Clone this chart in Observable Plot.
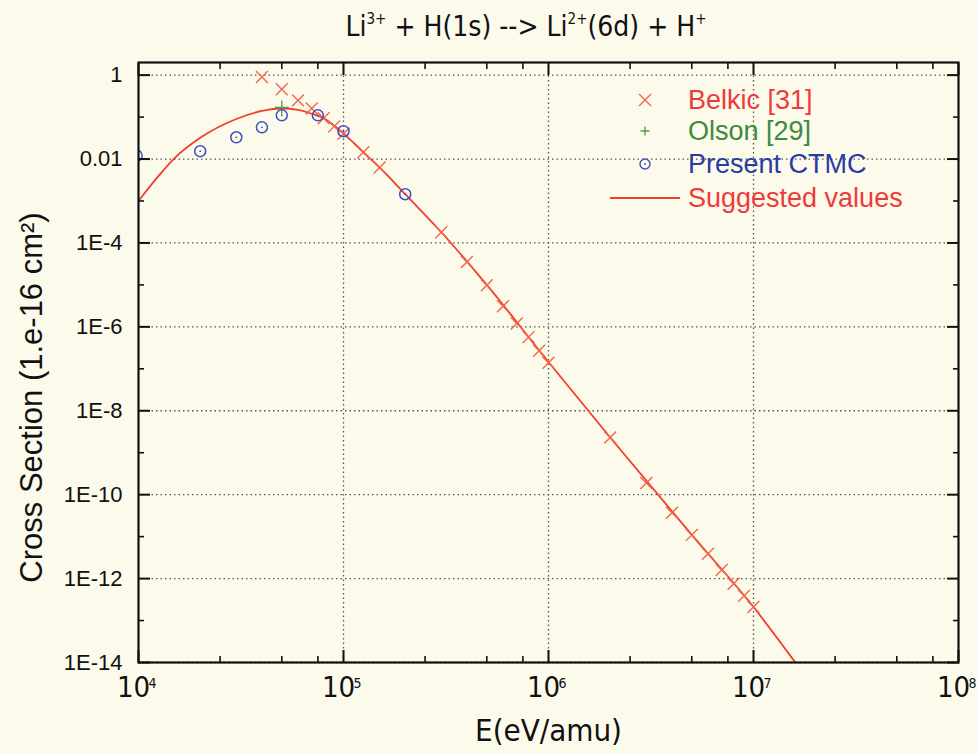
<!DOCTYPE html>
<html><head><meta charset="utf-8">
<script src="https://cdn.jsdelivr.net/npm/d3@7"></script>
<script src="https://cdn.jsdelivr.net/npm/@observablehq/plot@0.6"></script>
<style>
html,body{margin:0;padding:0;background:#fcfaea;}
#wrap{position:relative;width:977px;height:754px;overflow:hidden;background:#fcfaea;}
#title{position:absolute;top:10px;left:526px;transform:translateX(-50%);white-space:nowrap;
  font-family:"Liberation Sans Narrow","Arial Narrow","DejaVu Sans Condensed",sans-serif;font-size:28px;color:#111;}
#title sup{font-size:15px;vertical-align:0;position:relative;top:-12px;}
.lg{position:absolute;left:0;top:0;font-family:"Liberation Sans",Arial,sans-serif;font-size:27px;white-space:nowrap;}
.lg .row{position:absolute;height:30px;line-height:30px;}
</style>
</head><body>
<div id="wrap">
  <div id="title">Li<sup>3+</sup> + H(1s) --&gt; Li<sup>2+</sup>(6d) + H<sup>+</sup></div>
  <div id="chart"></div>
  <div id="legend" class="lg"></div>
</div>
<script>
// ---- data ----
const belkicE = [4e4, 5e4, 6e4, 7e4, 8e4, 9e4, 1e5, 1.25e5, 1.5e5, 3e5, 4e5, 5e5, 6e5, 7e5, 8e5, 9e5, 1e6, 2e6, 3e6, 4e6, 5e6, 6e6, 7e6, 8e6, 9e6, 1e7];
const belkicS = [0.9, 0.46, 0.25, 0.16, 0.094, 0.06, 0.04, 0.0145, 0.0063, 1.8e-4, 3.5e-5, 9.8e-6, 3.1e-6, 1.2e-6, 5.7e-7, 2.7e-7, 1.4e-7, 2.3e-9, 1.9e-10, 3.7e-11, 1.1e-11, 3.9e-12, 1.6e-12, 7.5e-13, 3.9e-13, 2.1e-13];
const olsonE = [5e4];
const olsonS = [0.17];
const ctmcE = [9.8e3, 2e4, 3e4, 4e4, 5e4, 7.5e4, 1e5, 2e5];
const ctmcS = [0.012, 0.0154, 0.033, 0.057, 0.11, 0.11, 0.046, 1.45e-3];
const suggE = [1e4, 1.25e4, 1.5e4, 2e4, 3e4, 4e4, 5e4, 6e4, 7e4, 8e4, 1e5, 1.25e5, 1.5e5, 2e5, 3e5, 5e5, 1e6, 2e6, 5e6, 1e7, 1.6e7];
const suggS = [1.0e-3, 3.9e-3, 0.0105, 0.032, 0.09, 0.14, 0.16, 0.148, 0.12, 0.094, 0.041, 0.0145, 6.3e-3, 1.45e-3, 1.8e-4, 1.0e-5, 1.45e-7, 2.3e-9, 1.1e-11, 2.1e-13, 1.0e-14];

const xDecades = [1e4, 1e5, 1e6, 1e7, 1e8];
const xExponents = ["4", "5", "6", "7", "8"];
const xMinor = [2.5e4, 5e4, 7.5e4, 2.5e5, 5e5, 7.5e5, 2.5e6, 5e6, 7.5e6, 2.5e7, 5e7, 7.5e7];
const xGrid = [1e5, 1e6, 1e7];
const yMajor = [1, 1e-2, 1e-4, 1e-6, 1e-8, 1e-10, 1e-12, 1e-14];
const yLabels = ["1", "0.01", "1E-4", "1E-6", "1E-8", "1E-10", "1E-12", "1E-14"];
const yMinor = [0.1, 1e-3, 1e-5, 1e-7, 1e-9, 1e-11, 1e-13];
const seriesNames = ["Belkic [31]", "Olson [29]", "Present CTMC", "Suggested values"];

const xLabel = "E(eV/amu)";
const yLabel = "Cross Section (1.e-16 cm\u00B2)";

// ---- styles ----
const C = {line: "#f0402c", belkic: "#f2654e", olson: "#4e9a46", ctmc: "#3d4fc2",
  tBelkic: "#ee3a3a", tOlson: "#3c8a3c", tCtmc: "#2a3ba4", tSugg: "#f03a3a"};
const belkic = belkicE.map((e, i) => ({e, s: belkicS[i]}));
const olson = olsonE.map((e, i) => ({e, s: olsonS[i]}));
const ctmc = ctmcE.map((e, i) => ({e, s: ctmcS[i]}));
const sugg = suggE.map((e, i) => ({e, s: suggS[i]}));
const narrow = "'Liberation Sans Narrow','Arial Narrow','DejaVu Sans Condensed',sans-serif";
const sans = "'Liberation Sans',Arial,sans-serif";
const tk = {label: null, tickFormat: () => ""};

const plot = Plot.plot({
  width: 977, height: 754,
  marginLeft: 138, marginRight: 19, marginTop: 62, marginBottom: 92,
  style: {background: "transparent", fontFamily: sans, color: "#111", overflow: "visible"},
  x: {type: "log", domain: [1e4, 1e8], axis: null},
  y: {type: "log", domain: [1e-14, 2], axis: null},
  marks: [
    Plot.gridY(yMajor, {stroke: "#444", strokeOpacity: 0.9, strokeWidth: 1.3, strokeDasharray: "1.5,3"}),
    Plot.gridX(xGrid, {stroke: "#444", strokeOpacity: 0.9, strokeWidth: 1.3, strokeDasharray: "1.5,3"}),
    Plot.line(sugg, {x: "e", y: "s", stroke: C.line, strokeWidth: 1.8, curve: "monotone-x", clip: true}),
    Plot.dot(belkic, {x: "e", y: "s", symbol: "times", r: 5.5, stroke: C.belkic, strokeWidth: 1.4}),
    Plot.dot(olson, {x: "e", y: "s", symbol: "plus", r: 4.5, stroke: C.olson, strokeWidth: 1.3}),
    Plot.dot(ctmc, {x: "e", y: "s", symbol: "circle", r: 5.5, stroke: C.ctmc, fill: "none", strokeWidth: 1.5, clip: true}),
    Plot.dot(ctmc, {x: "e", y: "s", r: 0.9, fill: C.ctmc, stroke: "none", clip: true}),
    Plot.frame({stroke: "#111", strokeWidth: 2.2}),
    // ticks (inward)
    Plot.axisX(xDecades, {...tk, anchor: "bottom", tickSize: -12, strokeWidth: 2}),
    Plot.axisX(xMinor, {...tk, anchor: "bottom", tickSize: -6, strokeWidth: 1.6}),
    Plot.axisX(xDecades, {...tk, anchor: "top", tickSize: -12, strokeWidth: 2}),
    Plot.axisX(xMinor, {...tk, anchor: "top", tickSize: -6, strokeWidth: 1.6}),
    Plot.axisY(yMajor, {...tk, anchor: "left", tickSize: -12, strokeWidth: 2}),
    Plot.axisY(yMinor, {...tk, anchor: "left", tickSize: -6, strokeWidth: 1.6}),
    Plot.axisY(yMajor, {...tk, anchor: "right", tickSize: -12, strokeWidth: 2}),
    Plot.axisY(yMinor, {...tk, anchor: "right", tickSize: -6, strokeWidth: 1.6}),
    // tick labels
    Plot.text(yMajor, {y: d => d, text: (d, i) => yLabels[i], frameAnchor: "left", textAnchor: "end", dx: -16, fontSize: 22, fill: "#111"}),
    Plot.text(xDecades, {x: d => d, text: () => "10", frameAnchor: "bottom", dx: -5, dy: 34, fontSize: 29, fontFamily: narrow, fill: "#111"}),
    Plot.text(xDecades, {x: d => d, text: (d, i) => xExponents[i], frameAnchor: "bottom", textAnchor: "start", dx: 10, dy: 25, fontSize: 14, fontFamily: narrow, fill: "#111"}),
    // axis titles
    Plot.text([xLabel], {text: d => d, frameAnchor: "bottom", dy: 78, fontSize: 31, fontFamily: narrow, fill: "#111"}),
    Plot.text([yLabel], {text: d => d, frameAnchor: "left", textAnchor: "middle", rotate: -90, dx: -106, dy: 35, fontSize: 31, fill: "#111"})
  ]
});
document.getElementById("chart").appendChild(plot);

// legend (inside the frame, top right)
const lg = document.getElementById("legend");
const lgColors = [C.tBelkic, C.tOlson, C.tCtmc, C.tSugg];
const rowY = [100, 131, 164, 198];
const symSvg = [
  `<svg width="24" height="24"><path d="M6,6L18,18M18,6L6,18" stroke="${C.belkic}" stroke-width="1.4"/></svg>`,
  `<svg width="24" height="24"><path d="M12,7.5V16.5M7.5,12H16.5" stroke="${C.olson}" stroke-width="1.3"/></svg>`,
  `<svg width="24" height="24"><circle cx="12" cy="12" r="5" fill="none" stroke="${C.ctmc}" stroke-width="1.4"/><circle cx="12" cy="12" r="0.9" fill="${C.ctmc}"/></svg>`,
  `<svg width="80" height="24"><path d="M2,12H72" stroke="${C.line}" stroke-width="1.8"/></svg>`
];
seriesNames.forEach((name, i) => {
  const s = document.createElement("div");
  s.style.position = "absolute";
  s.style.left = (i === 3 ? 608 : 633) + "px";
  s.style.top = (rowY[i] - 12) + "px";
  s.innerHTML = symSvg[i];
  lg.appendChild(s);
  const t = document.createElement("div");
  t.className = "row";
  t.style.left = "688px";
  t.style.top = (rowY[i] - 15) + "px";
  t.style.color = lgColors[i];
  t.textContent = name;
  lg.appendChild(t);
});
</script>
</body></html>
